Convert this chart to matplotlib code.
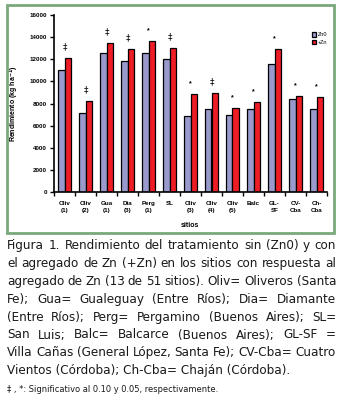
import numpy as np
import matplotlib
matplotlib.use("Agg")
import matplotlib.pyplot as plt
from matplotlib.patches import Rectangle
from matplotlib import font_manager
from matplotlib.font_manager import FontProperties

# ---------------- datos ----------------
sitios = ["Oliv\n(1)", "Oliv\n(2)", "Gua\n(1)", "Dia\n(3)", "Perg\n(1)", "SL",
          "Oliv\n(3)", "Oliv\n(4)", "Oliv\n(5)", "Balc", "GL-\nSF", "CV-\nCba", "Ch-\nCba"]
zn0 = [11000, 7130, 12570, 11820, 12550, 12000, 6860, 7490, 6980, 7490, 11550, 8400, 7490]
mas_zn = [12090, 8220, 13450, 12900, 13630, 13000, 8850, 8940, 7580, 8120, 12900, 8690, 8580]
signif = ["‡", "‡", "‡", "‡", "*", "‡", "*", "‡", "*", "*", "*", "*", "*"]

caption_lines = [
    "Figura 1. Rendimiento del tratamiento sin (Zn0) y con",
    "el agregado de Zn (+Zn) en los sitios con respuesta al",
    "agregado de Zn (13 de 51 sitios). Oliv= Oliveros (Santa",
    "Fe); Gua= Gualeguay (Entre Ríos); Dia= Diamante",
    "(Entre Ríos); Perg= Pergamino (Buenos Aires); SL=",
    "San Luis; Balc= Balcarce (Buenos Aires); GL-SF =",
    "Villa Cañas (General López, Santa Fe); CV-Cba= Cuatro",
    "Vientos (Córdoba); Ch-Cba= Chaján (Córdoba).",
]
nota = "‡ , *: Significativo al 0.10 y 0.05, respectivamente."

plt.rcParams["font.family"] = ["Liberation Sans", "DejaVu Sans"]

# buscar una fuente estrecha (si hay) para el pie
cap_prop = FontProperties(family=["Liberation Sans", "DejaVu Sans"])
for f in font_manager.fontManager.ttflist:
    nm = (f.name + " " + f.fname).lower()
    if f.weight in (400, "normal", "regular") and f.style == "normal" and (
            "narrow" in nm or "condensed" in nm or "cond" in f.stretch):
        if "bold" in f.fname.lower() or "italic" in f.fname.lower():
            continue
        cap_prop = FontProperties(fname=f.fname)
        break

W, H = 343, 400
fig = plt.figure(figsize=(W / 100, H / 100), dpi=100)

# marco verde
fig.patches.append(Rectangle((7 / W, 1 - 233 / H), 327 / W, 228 / H,
                             transform=fig.transFigure, fill=False,
                             edgecolor="#7aa87a", linewidth=2))

ax = fig.add_axes([54 / W, 1 - 192.3 / H, 273 / W, 177.3 / H])
x = np.arange(len(sitios))
bw = 0.31
ax.bar(x - bw / 2, zn0, bw, color="#9999cc", edgecolor="black", linewidth=0.9, label="Zn0")
ax.bar(x + bw / 2, mas_zn, bw, color="#ee1c24", edgecolor="black", linewidth=0.9, label="+Zn")

for i, s in enumerate(signif):
    top = max(zn0[i], mas_zn[i])
    if s == "*":
        ax.text(x[i], top + 600, s, ha="center", va="bottom", fontsize=5, fontweight="bold")
    else:
        ax.text(x[i], top + 650, s, ha="center", va="bottom", fontsize=6.5,
                family=["DejaVu Sans"])

ax.set_xlim(-0.5, len(sitios) - 0.5)
ax.set_ylim(0, 16000)
ax.set_yticks(np.arange(0, 16001, 2000))
ax.set_yticklabels([str(v) for v in range(0, 16001, 2000)], fontsize=4.5, fontweight="bold")
ax.set_xticks(np.arange(-0.5, len(sitios), 1))
ax.set_xticklabels([])
ax.set_xticks(x, minor=True)
ax.set_xticklabels(sitios, minor=True, fontsize=4.5, fontweight="bold", va="top",
                   linespacing=1.7)
ax.tick_params(axis="x", which="minor", length=0, pad=6)
ax.tick_params(axis="x", which="major", length=3, width=1)
ax.tick_params(axis="y", length=3, width=1, pad=2)
for sp in ["top", "right"]:
    ax.spines[sp].set_visible(False)
for sp in ["left", "bottom"]:
    ax.spines[sp].set_linewidth(1.2)

ax.set_ylabel("Rendimiento (kg ha$^{\\mathbf{-1}}$)", fontsize=5, fontweight="bold", labelpad=6)
fig.text(190 / W, 1 - 226 / H, "sitios", ha="center", va="center", fontsize=5, fontweight="bold")

ax.legend(loc="upper right", bbox_to_anchor=(1.02, 0.93), fontsize=4, frameon=False,
          handlelength=0.8, handleheight=0.8, handletextpad=0.3, labelspacing=0.4)

# ---------------- pie de figura justificado ----------------
renderer = fig.canvas.get_renderer()
x_left, x_right = 7, 336
avail = x_right - x_left
y0 = 249
step = 17.9


def ctext(xx, yy, s, size):
    p = cap_prop.copy()
    p.set_size(size)
    return fig.text(xx, yy, s, fontproperties=p, color="#1a1a1a", va="baseline")


# tamaño de letra que deja entrar todas las líneas
ref = 10
need = []
for line in caption_lines:
    words = line.split(" ")
    tmp = [ctext(0, 0, w, ref) for w in words]
    tot = sum(t.get_window_extent(renderer).width for t in tmp)
    for t in tmp:
        t.remove()
    need.append(tot + 0.22 * ref * 100 / 72 * (len(words) - 1))
fs = min(ref * avail / max(need), 13.5)

for k, line in enumerate(caption_lines):
    yb = 1 - (y0 + k * step) / H
    words = line.split(" ")
    if k == len(caption_lines) - 1:
        ctext(x_left / W, yb, line, fs)
        continue
    arts = [ctext(0, yb, w, fs) for w in words]
    widths = [a.get_window_extent(renderer).width for a in arts]
    gap = (avail - sum(widths)) / (len(words) - 1)
    pos = x_left
    for a, wd in zip(arts, widths):
        a.set_x(pos / W)
        pos += wd + gap

nt = ctext(x_left / W, 1 - 392 / H, nota, 7)
nw = nt.get_window_extent(renderer).width
nt.set_fontsize(7 * 213 / nw)

fig.savefig("out.png", dpi=100)
